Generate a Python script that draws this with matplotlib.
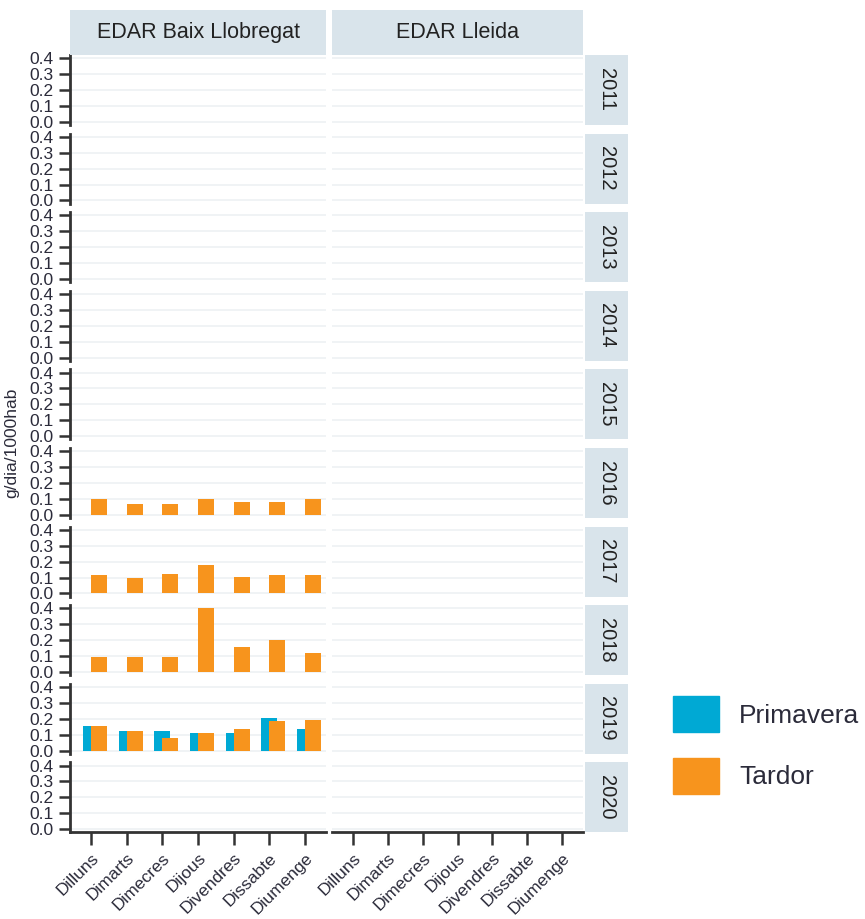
import matplotlib
matplotlib.use("Agg")
import matplotlib.pyplot as plt
from matplotlib.patches import Patch
import numpy as np

plt.rcParams['font.family'] = ['Liberation Sans', 'DejaVu Sans']

# Data: g/dia/1000hab per weekday, by plant and year
dies = ["Dilluns", "Dimarts", "Dimecres", "Dijous", "Divendres", "Dissabte", "Diumenge"]
plantes = ["EDAR Baix Llobregat", "EDAR Lleida"]
anys = [2011, 2012, 2013, 2014, 2015, 2016, 2017, 2018, 2019, 2020]

tardor_2016 = [0.10, 0.067, 0.067, 0.10, 0.08, 0.08, 0.10]
tardor_2017 = [0.115, 0.095, 0.125, 0.18, 0.105, 0.115, 0.115]
tardor_2018 = [0.095, 0.095, 0.095, 0.40, 0.16, 0.20, 0.12]
tardor_2019 = [0.155, 0.125, 0.08, 0.11, 0.135, 0.185, 0.195]
primavera_2019 = [0.155, 0.125, 0.125, 0.11, 0.11, 0.205, 0.135]

# only Baix Llobregat has measurements
tardor = {2016: tardor_2016, 2017: tardor_2017, 2018: tardor_2018, 2019: tardor_2019}
primavera = {2019: primavera_2019}

COL_PRIM = "#00a9d4"
COL_TARD = "#f7941d"
STRIP = "#d9e4eb"
GRID = "#edf1f4"
AXC = "#333333"
TXT = "#2b2b3a"

W, H = 865, 919
fig = plt.figure(figsize=(W / 100, H / 100), dpi=100)


def px(x0, y0, x1, y1):
    # pixel box (top-left origin) -> figure fraction rect
    return [x0 / W, 1 - y1 / H, (x1 - x0) / W, (y1 - y0) / H]


col_x = [(70, 326), (332, 583)]
row_top0, row_pitch, row_h = 55, 78.6, 70
x = np.arange(len(dies))
bw = 0.45

for r, any_ in enumerate(anys):
    y0 = row_top0 + r * row_pitch
    y1 = y0 + row_h
    for c, planta in enumerate(plantes):
        ax = fig.add_axes(px(col_x[c][0], y0, col_x[c][1], y1))
        ax.set_xlim(-0.6, 6.6)
        ax.set_ylim(-0.02, 0.42)
        ax.set_yticks([0, 0.1, 0.2, 0.3, 0.4])
        for g in [0, 0.1, 0.2, 0.3, 0.4]:
            ax.axhline(g, color=GRID, lw=1.2, zorder=0)
        for s in ax.spines.values():
            s.set_visible(False)
        if c == 0:
            if any_ in primavera:
                ax.bar(x - bw / 2, primavera[any_], width=bw, align='edge',
                       color=COL_PRIM, zorder=2)
            if any_ in tardor:
                ax.bar(x, tardor[any_], width=bw, align='edge',
                       color=COL_TARD, zorder=2)
            ax.spines['left'].set_visible(True)
            ax.spines['left'].set_color(AXC)
            ax.spines['left'].set_linewidth(2)
            ax.set_yticklabels(["0.0", "0.1", "0.2", "0.3", "0.4"])
            ax.tick_params(axis='y', length=8, width=1.8, color=AXC,
                           labelsize=12.5, labelcolor=TXT, pad=4)
        else:
            ax.tick_params(axis='y', left=False, labelleft=False)
        ax.set_xticks(x)
        if r == len(anys) - 1:
            ax.spines['bottom'].set_visible(True)
            ax.spines['bottom'].set_color(AXC)
            ax.spines['bottom'].set_linewidth(2)
            ax.set_xticklabels(dies, rotation=45, ha='right', va='top',
                               rotation_mode='anchor')
            ax.tick_params(axis='x', length=9, width=1.8, color=AXC,
                           labelsize=12.5, labelcolor=TXT, pad=4)
        else:
            ax.tick_params(axis='x', bottom=False, labelbottom=False)

        if r == 0:
            sax = fig.add_axes(px(col_x[c][0], 10, col_x[c][1], 55))
            sax.set_facecolor(STRIP)
            sax.set_xticks([])
            sax.set_yticks([])
            for s in sax.spines.values():
                s.set_visible(False)
            sax.text(0.5, 0.5, planta, ha='center', va='center',
                     fontsize=15.5, color="#222222", transform=sax.transAxes)

    # year strip on the right
    yax = fig.add_axes(px(585, y0, 628, y1))
    yax.set_facecolor(STRIP)
    yax.set_xticks([])
    yax.set_yticks([])
    for s in yax.spines.values():
        s.set_visible(False)
    yax.text(0.5, 0.5, str(any_), ha='center', va='center', rotation=-90,
             fontsize=14.5, color="#222222", transform=yax.transAxes)

fig.text(12 / W, 1 - 443 / H, "g/dia/1000hab", rotation=90, ha='center',
         va='center', fontsize=12.5, color=TXT)

handles = [Patch(color=COL_PRIM, label="Primavera"),
           Patch(color=COL_TARD, label="Tardor")]
fig.legend(handles=handles, loc='upper left',
           bbox_to_anchor=(673 / W, 1 - 696 / H), frameon=False,
           fontsize=19, handlelength=1.75, handleheight=1.75,
           labelspacing=0.95, handletextpad=0.75, borderpad=0,
           borderaxespad=0, labelcolor=TXT)

fig.savefig("out.png", dpi=100)
